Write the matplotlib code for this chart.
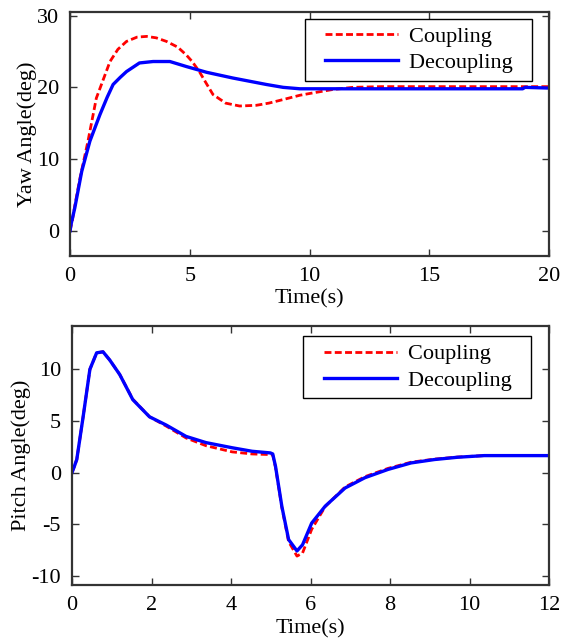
import matplotlib
matplotlib.use("Agg")
import matplotlib.pyplot as plt
from matplotlib.legend_handler import HandlerLine2D

plt.rcParams['font.family'] = ['Liberation Serif', 'DejaVu Serif']
plt.rcParams['axes.unicode_minus'] = False

# yaw response (deg)
T_YAW_C = [0, 0.1, 0.2, 0.42, 0.75, 1.1, 1.67, 2.0, 2.36, 2.8, 3.2, 3.6, 4.03, 4.5, 4.86,
           5.1, 5.4, 5.7, 5.97, 6.5, 7.08, 7.78, 8.3, 8.9, 9.6, 10.1, 10.97, 11.8, 13, 15, 17, 20]
YAW_C = [0, 1.5, 3.5, 7.4, 12.5, 18.5, 23.6, 25.3, 26.4, 27.0, 27.1, 26.9, 26.4, 25.6, 24.5,
         23.6, 22.2, 20.5, 19.0, 17.8, 17.4, 17.5, 17.8, 18.3, 18.9, 19.2, 19.7, 20.0, 20.1, 20.1, 20.1, 20.1]
T_YAW_D = [0, 0.05, 0.2, 0.49, 0.83, 1.25, 1.55, 1.8, 2.1, 2.36, 2.9, 3.47, 4.17, 4.86, 5.7, 6.8, 8.2,
           8.9, 9.6, 12, 15, 18.9, 19.0, 20]
YAW_D = [0, 1.0, 3.2, 8.3, 12.5, 16.2, 18.6, 20.4, 21.4, 22.2, 23.4, 23.6, 23.6, 22.9, 22.1, 21.3, 20.4,
         20.0, 19.8, 19.8, 19.8, 19.8, 20.0, 19.9]

# pitch response (deg)
T_PITCH = [0, 0.05, 0.12, 0.28, 0.45, 0.62, 0.78, 0.95, 1.2, 1.53, 1.95, 2.37, 2.87, 3.37, 4.03,
           4.53, 4.99, 5.05, 5.12, 5.28, 5.45, 5.66, 5.8, 6.03, 6.37, 6.87, 7.37, 7.95, 8.53,
           9.12, 9.7, 10.37, 12]
PITCH_D = [0, 0.5, 1.26, 5.4, 10.0, 11.6, 11.7, 10.9, 9.5, 7.06, 5.4, 4.6, 3.5, 2.9, 2.4,
           2.06, 1.9, 1.8, 0.6, -3.3, -6.5, -7.6, -7.0, -4.9, -3.26, -1.5, -0.5, 0.3, 0.93,
           1.26, 1.48, 1.64, 1.64]
PITCH_C = [0, 0.5, 1.26, 5.4, 10.0, 11.6, 11.7, 10.9, 9.5, 7.1, 5.4, 4.5, 3.35, 2.6, 2.0,
           1.8, 1.74, 1.7, 0.5, -3.4, -6.7, -8.1, -7.8, -5.5, -3.3, -1.4, -0.4, 0.4, 1.0,
           1.3, 1.5, 1.64, 1.64]

LABELS = ["Coupling", "Decoupling"]
FS = 16


class PadLine(HandlerLine2D):
    # leave some blank room left of the legend line
    def create_artists(self, legend, orig_handle, xdescent, ydescent, width, height, fontsize, trans):
        p = 0.56 * fontsize
        return super().create_artists(legend, orig_handle, xdescent - p, ydescent,
                                      width - p, height, fontsize, trans)


def style_axes(ax):
    for s in ax.spines.values():
        s.set_linewidth(1.6)
        s.set_color('#333333')
    ax.tick_params(direction='in', top=True, right=True, length=5, width=1,
                   labelsize=FS, pad=8, color='#333333')


def add_legend(ax, anchor):
    handles = ax.get_lines()
    # trailing spaces give the extra room right of the text
    leg = ax.legend(handles, [s + "  " for s in LABELS], loc='upper right', bbox_to_anchor=anchor,
                    fontsize=FS, fancybox=False, edgecolor='black', framealpha=1,
                    handlelength=3.86, handletextpad=0.5, labelspacing=0.25, borderpad=0.35,
                    borderaxespad=0, handler_map={plt.Line2D: PadLine()})
    leg.get_frame().set_linewidth(1)


fig = plt.figure(figsize=(5.66, 6.4), dpi=100)

ax1 = fig.add_axes([70 / 566, 1 - 256 / 640, 479 / 566, 244 / 640])
ax1.plot(T_YAW_C, YAW_C, color='red', lw=2, dashes=(2.5, 1.2))
ax1.plot(T_YAW_D, YAW_D, color='blue', lw=2.4)
ax1.set_xlim(0, 20)
ax1.set_ylim(-3.5, 30.5)
ax1.set_xticks([0, 5, 10, 15, 20])
ax1.set_yticks([0, 10, 20, 30])
ax1.set_xlabel("Time(s)", fontsize=FS, labelpad=2)
ax1.set_ylabel("Yaw Angle(deg)", fontsize=FS, labelpad=0)
style_axes(ax1)
add_legend(ax1, (0.965, 0.972))

ax2 = fig.add_axes([72 / 566, 1 - 585 / 640, 477 / 566, 259 / 640])
ax2.plot(T_PITCH, PITCH_C, color='red', lw=2, dashes=(2.5, 1.2))
ax2.plot(T_PITCH, PITCH_D, color='blue', lw=2.4)
ax2.set_xlim(0, 12)
ax2.set_ylim(-10.9, 14.2)
ax2.set_xticks([0, 2, 4, 6, 8, 10, 12])
ax2.set_yticks([-10, -5, 0, 5, 10])
ax2.set_xlabel("Time(s)", fontsize=FS, labelpad=3)
ax2.set_ylabel("Pitch Angle(deg)", fontsize=FS, labelpad=0)
style_axes(ax2)
add_legend(ax2, (0.962, 0.961))

fig.savefig("out.png", dpi=100)
